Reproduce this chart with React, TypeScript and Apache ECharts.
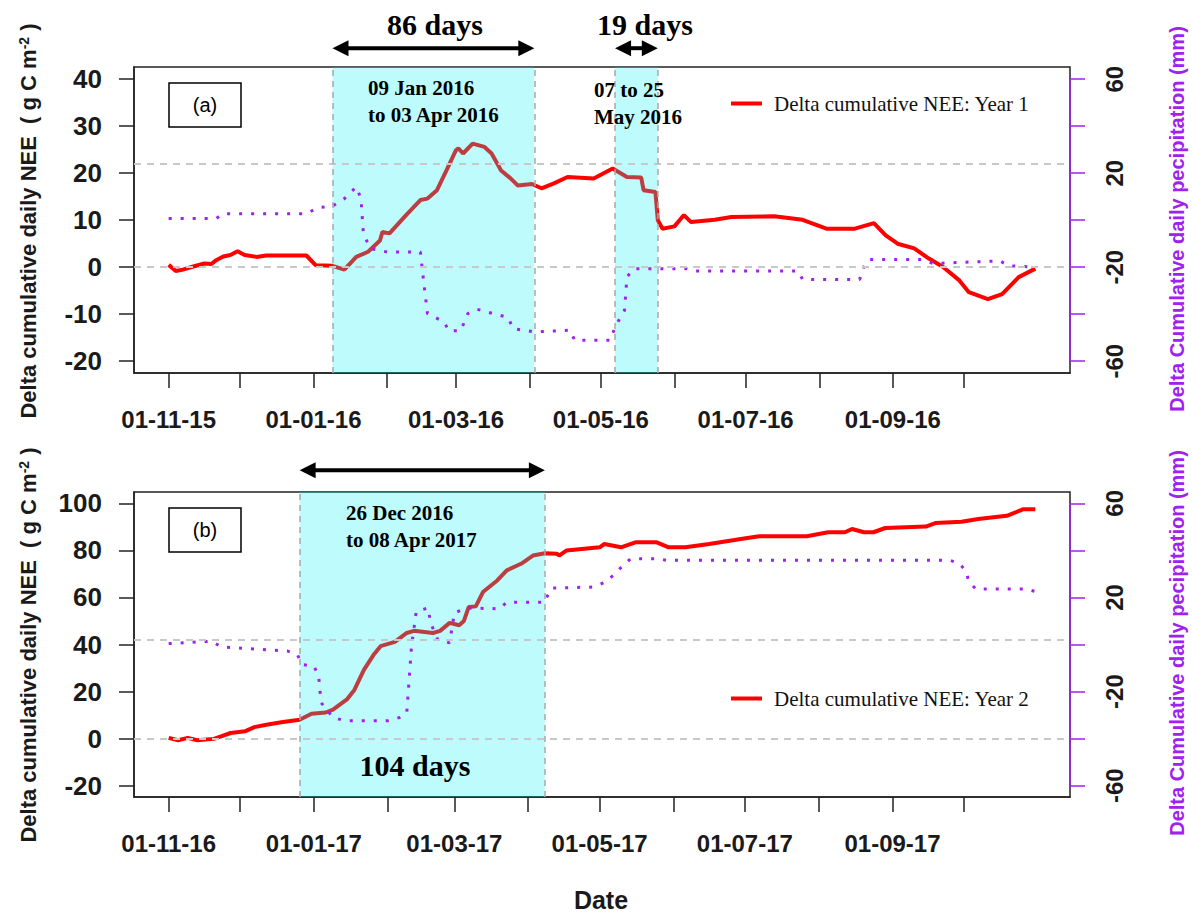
import React, { useEffect, useRef } from "react";
import * as echarts from "echarts";

// ---------- Panel (a): Year 1 ----------
const neeYear1Dates = [
  "2015-11-01", "2015-11-04", "2015-11-07", "2015-11-11", "2015-11-16", "2015-11-19", "2015-11-21",
  "2015-11-24", "2015-11-27", "2015-11-30", "2015-12-03", "2015-12-08", "2015-12-12", "2015-12-29",
  "2016-01-02", "2016-01-09", "2016-01-14", "2016-01-19", "2016-01-24", "2016-01-29", "2016-01-30",
  "2016-02-02", "2016-02-09", "2016-02-15", "2016-02-18", "2016-02-22", "2016-02-26", "2016-03-01",
  "2016-03-02", "2016-03-04", "2016-03-08", "2016-03-13", "2016-03-16", "2016-03-20", "2016-03-24",
  "2016-03-27", "2016-04-02", "2016-04-06", "2016-04-11", "2016-04-17", "2016-04-28", "2016-05-06",
  "2016-05-12", "2016-05-18", "2016-05-19", "2016-05-24", "2016-05-25", "2016-05-27", "2016-06-01",
  "2016-06-05", "2016-06-08", "2016-06-18", "2016-06-25", "2016-07-13", "2016-07-25", "2016-08-04",
  "2016-08-16", "2016-08-24", "2016-08-29", "2016-09-03", "2016-09-10", "2016-09-16", "2016-09-22",
  "2016-09-29", "2016-10-03", "2016-10-11", "2016-10-17", "2016-10-24", "2016-10-31",
];
const neeYear1Values = [
  0.5, -0.8, -0.5, 0.1, 0.8, 0.7, 1.5,
  2.3, 2.6, 3.4, 2.6, 2.2, 2.5, 2.5,
  0.4, 0.3, -0.5, 2.2, 3.3, 5.7, 7.5,
  7.2, 11.1, 14.3, 14.6, 16.4, 20.6, 24.9,
  25.3, 24.2, 26.3, 25.6, 24.2, 20.6, 18.9,
  17.4, 17.7, 16.8, 17.8, 19.2, 18.9, 21.0,
  19.2, 19.1, 16.4, 16.0, 10.0, 8.2, 8.7,
  11.1, 9.6, 10.1, 10.7, 10.85, 10.1, 8.2,
  8.2, 9.4, 6.8, 5.0, 4.0, 1.9, 0.1,
  -2.8, -5.3, -6.8, -5.7, -2.1, -0.3,
];
const precipYear1Dates = [
  "2015-11-01", "2015-11-21", "2015-11-24", "2015-12-29", "2016-01-03", "2016-01-09", "2016-01-14",
  "2016-01-19", "2016-01-21", "2016-01-22", "2016-01-25", "2016-02-01", "2016-02-15", "2016-02-16",
  "2016-02-18", "2016-02-25", "2016-02-27", "2016-03-03", "2016-03-06", "2016-03-10", "2016-03-14",
  "2016-03-23", "2016-03-25", "2016-04-03", "2016-04-18", "2016-04-20", "2016-05-05", "2016-05-07",
  "2016-05-11", "2016-05-12", "2016-05-15", "2016-06-06", "2016-06-10", "2016-07-23", "2016-07-25",
  "2016-08-18", "2016-08-20", "2016-08-22", "2016-09-13", "2016-09-18", "2016-10-16", "2016-10-20",
  "2016-10-31",
];
const precipYear1Values = [
  0.7, 0.7, 2.8, 2.8, 5.4, 6.0, 9.2,
  14.2, 9.2, -5.7, -12.1, -13.5, -13.5, -22.7,
  -39.7, -43.3, -47.1, -47.0, -39.7, -37.9, -39.0,
  -41.4, -46.1, -47.5, -46.8, -51.1, -51.1, -45.4,
  -38.3, -24.1, -20.6, -20.6, -21.6, -21.6, -25.2,
  -25.2, -19.1, -16.7, -16.7, -18.4, -17.3, -19.4,
  -19.9,
];
const xTicksYear1 = [
  "2015-11-01", "2015-12-01", "2016-01-01", "2016-02-01", "2016-03-01", "2016-04-01",
  "2016-05-01", "2016-06-01", "2016-07-01", "2016-08-01", "2016-09-01", "2016-10-01",
];
const xLabelsYear1 = ["2015-11-01", "2016-01-01", "2016-03-01", "2016-05-01", "2016-07-01", "2016-09-01"];
const bandsYear1 = [["2016-01-09", "2016-04-03"], ["2016-05-07", "2016-05-25"]];
const refLinesYear1 = [0, 22];
const leftTicksYear1 = [-20, -10, 0, 10, 20, 30, 40];
const leftRangeYear1 = [-22.5, 42.6];
const rightRangeYear1 = [-65, 65.2];
const arrowLevelYear1 = 46.6;

// ---------- Panel (b): Year 2 ----------
const neeYear2Dates = [
  "2016-11-01", "2016-11-05", "2016-11-09", "2016-11-13", "2016-11-20", "2016-11-23", "2016-11-27",
  "2016-12-03", "2016-12-07", "2016-12-12", "2016-12-19", "2016-12-26", "2016-12-31", "2017-01-06",
  "2017-01-09", "2017-01-15", "2017-01-18", "2017-01-22", "2017-01-26", "2017-01-29", "2017-02-04",
  "2017-02-09", "2017-02-12", "2017-02-20", "2017-02-23", "2017-02-27", "2017-03-03", "2017-03-05",
  "2017-03-07", "2017-03-10", "2017-03-13", "2017-03-19", "2017-03-23", "2017-03-29", "2017-04-03",
  "2017-04-08", "2017-04-13", "2017-04-14", "2017-04-17", "2017-05-01", "2017-05-03", "2017-05-10",
  "2017-05-16", "2017-05-25", "2017-05-30", "2017-06-06", "2017-06-16", "2017-06-30", "2017-07-07",
  "2017-07-27", "2017-08-05", "2017-08-12", "2017-08-15", "2017-08-20", "2017-08-24", "2017-08-29",
  "2017-09-15", "2017-09-19", "2017-09-30", "2017-10-07", "2017-10-19", "2017-10-26", "2017-10-31",
];
const neeYear2Values = [
  0.3, -0.7, 0.3, -0.7, -0.1, 1.0, 2.4,
  3.1, 4.9, 5.9, 7.1, 8.0, 10.6, 11.1,
  12.3, 16.8, 20.7, 29.2, 35.5, 39.3, 41.1,
  44.9, 45.8, 44.9, 45.8, 49.2, 48.2, 50.0,
  55.9, 56.2, 62.3, 67.2, 71.5, 74.3, 77.8,
  78.8, 78.6, 77.8, 79.9, 81.3, 82.7, 81.3,
  83.4, 83.4, 81.3, 81.3, 82.7, 84.9, 86.0,
  86.0, 87.7, 87.7, 89.1, 87.7, 87.7, 89.5,
  90.1, 91.6, 92.2, 93.3, 94.7, 97.5, 97.5,
];
const precipYear2Dates = [
  "2016-11-01", "2016-11-19", "2016-11-23", "2016-12-21", "2016-12-25", "2016-12-27", "2017-01-01",
  "2017-01-03", "2017-01-04", "2017-01-09", "2017-01-14", "2017-02-01", "2017-02-06", "2017-02-09",
  "2017-02-11", "2017-02-13", "2017-02-18", "2017-02-19", "2017-02-22", "2017-02-27", "2017-03-01",
  "2017-03-06", "2017-03-20", "2017-03-23", "2017-04-08", "2017-04-09", "2017-04-11", "2017-04-28",
  "2017-05-03", "2017-05-07", "2017-05-11", "2017-05-14", "2017-05-26", "2017-05-29", "2017-09-25",
  "2017-09-29", "2017-10-02", "2017-10-03", "2017-10-06", "2017-10-27", "2017-10-31",
];
const precipYear2Values = [
  0.4, 1.4, -1.0, -2.8, -4.2, -8.5, -9.2,
  -13.4, -24.7, -31.0, -32.4, -32.4, -31.0, -28.9,
  -0.7, 14.1, 15.5, 9.2, 2.1, 0.7, 13.4,
  15.5, 15.2, 17.9, 17.9, 20.5, 24.0, 24.4,
  26.3, 29.6, 33.8, 36.4, 36.4, 35.8, 35.8,
  34.5, 31.0, 26.8, 23.6, 23.6, 22.5,
];
const xTicksYear2 = [
  "2016-11-01", "2016-12-01", "2017-01-01", "2017-02-01", "2017-03-01", "2017-04-01",
  "2017-05-01", "2017-06-01", "2017-07-01", "2017-08-01", "2017-09-01", "2017-10-01",
];
const xLabelsYear2 = ["2016-11-01", "2017-01-01", "2017-03-01", "2017-05-01", "2017-07-01", "2017-09-01"];
const bandsYear2 = [["2016-12-26", "2017-04-08"]];
const refLinesYear2 = [0, 42];
const leftTicksYear2 = [-20, 0, 20, 40, 60, 80, 100];
const leftRangeYear2 = [-24.8, 104.8];
const rightRangeYear2 = [-64.8, 64.8];
const arrowLevelYear2 = 114;

const rightTicks = [-60, -40, -20, 0, 20, 40, 60];
const rightLabels = [-60, -20, 20, 60];

const RED = "#FF0000";
const PURPLE = "#A020F0";
const INK = "#1a1a1a";
const SANS = "'Liberation Sans', Arial, sans-serif";
const SERIF = "'Liberation Serif', 'Times New Roman', serif";

const ts = (s: string) => {
  const [y, m, d] = s.split("-").map(Number);
  return Date.UTC(y, m - 1, d);
};
const pairs = (dates: string[], vals: number[]) => dates.map((d, i) => [ts(d), vals[i]]);
const padRange = (dates: string[]) => {
  const a = ts(dates[0]);
  const b = ts(dates[dates.length - 1]);
  const p = (b - a) * 0.04;
  return [a - p, b + p];
};
const fmtDate = (v: number) => {
  const d = new Date(v);
  const dd = String(d.getUTCDate()).padStart(2, "0");
  const mm = String(d.getUTCMonth() + 1).padStart(2, "0");
  const yy = String(d.getUTCFullYear() % 100).padStart(2, "0");
  return `${dd}-${mm}-${yy}`;
};

function buildPanel(p: any) {
  const xr = padRange(p.neeDates);
  const xAxis = {
    type: "value",
    gridIndex: p.idx,
    min: xr[0],
    max: xr[1],
    axisLine: { show: true, onZero: false, lineStyle: { color: "#222", width: 1.5 } },
    axisTick: { show: true, customValues: p.xTicks.map(ts), length: 15, lineStyle: { color: "#222", width: 1.5 } },
    axisLabel: {
      show: true,
      customValues: p.xLabels.map(ts),
      formatter: (v: number) => fmtDate(v),
      fontSize: 24,
      fontWeight: "bold",
      fontFamily: SANS,
      color: INK,
      margin: 34,
    },
    splitLine: { show: false },
  };
  const yLeft = {
    type: "value",
    gridIndex: p.idx,
    position: "left",
    min: p.leftRange[0],
    max: p.leftRange[1],
    axisLine: { show: true, onZero: false, lineStyle: { color: "#222", width: 1.5 } },
    axisTick: { show: true, customValues: p.leftTicks, length: 15, lineStyle: { color: "#222", width: 1.5 } },
    axisLabel: {
      show: true,
      customValues: p.leftTicks,
      fontSize: 26,
      fontWeight: "bold",
      fontFamily: SANS,
      color: INK,
      margin: 32,
    },
    splitLine: { show: false },
  };
  const yRight = {
    type: "value",
    gridIndex: p.idx,
    position: "right",
    min: p.rightRange[0],
    max: p.rightRange[1],
    axisLine: { show: false, onZero: false },
    axisTick: { show: true, customValues: rightTicks, length: 15, lineStyle: { color: PURPLE, width: 1.5 } },
    axisLabel: {
      show: true,
      customValues: rightLabels,
      rotate: 90,
      fontSize: 24,
      fontWeight: "bold",
      fontFamily: SANS,
      color: INK,
      margin: 32,
    },
    splitLine: { show: false },
  };
  const xi = p.idx;
  const yl = p.idx * 2;
  const yr = p.idx * 2 + 1;
  const series = [
    {
      type: "line",
      name: p.neeName,
      xAxisIndex: xi,
      yAxisIndex: yl,
      data: pairs(p.neeDates, p.neeValues),
      symbol: "none",
      lineStyle: { color: RED, width: 4 },
      itemStyle: { color: RED },
      z: 2,
      silent: true,
      markLine: {
        silent: true,
        symbol: ["none", "none"],
        label: { show: false },
        lineStyle: { color: "#C8C8C8", type: [7, 6], width: 2 },
        data: p.refLines.map((v: number) => ({ yAxis: v })),
      },
    },
    {
      type: "line",
      name: "band" + xi,
      xAxisIndex: xi,
      yAxisIndex: yl,
      data: [],
      clip: false,
      z: 3,
      silent: true,
      markArea: {
        silent: true,
        z: 3,
        itemStyle: { color: "rgba(0,238,248,0.26)" },
        data: p.bands.map(([a, b]: string[]) => [{ xAxis: ts(a) }, { xAxis: ts(b) }]),
      },
      markLine: {
        silent: true,
        symbol: ["none", "none"],
        label: { show: false },
        lineStyle: { color: "#A8A8A8", type: [6, 5], width: 1.5 },
        data: p.bands.flatMap(([a, b]: string[]) => [{ xAxis: ts(a) }, { xAxis: ts(b) }]),
      },
    },
    {
      type: "line",
      name: p.precipName,
      xAxisIndex: xi,
      yAxisIndex: yr,
      data: pairs(p.precipDates, p.precipValues),
      symbol: "none",
      lineStyle: { color: PURPLE, width: 3, type: [3, 9] },
      itemStyle: { color: PURPLE },
      z: 4,
      clip: false,
      silent: true,
      markLine: {
        silent: true,
        symbol: ["none", "none"],
        label: { show: false },
        lineStyle: { color: PURPLE, type: "solid", width: 1.5 },
        data: [[{ coord: [xr[1], rightTicks[0]] }, { coord: [xr[1], rightTicks[rightTicks.length - 1]] }]],
      },
    },
  ];
  return { xAxis, yAxes: [yLeft, yRight], series };
}

const text = (x: number, y: number, t: string, o: any = {}) => ({
  type: "text",
  x,
  y,
  z: 100,
  rotation: o.rotation || 0,
  silent: true,
  style: {
    text: t,
    fill: o.fill || "#000",
    fontSize: o.fontSize || 20,
    fontWeight: o.fontWeight || "normal",
    fontFamily: o.fontFamily || SANS,
    align: o.align || "center",
    textAlign: o.align || "center",
    verticalAlign: "middle",
    textVerticalAlign: "middle",
    rich: o.rich,
  },
});

// double-headed arrow built from pixel positions obtained through the axes
const arrow = (x0: number, x1: number, y: number) => {
  const hl = 16;
  const hw = 8;
  return [
    { type: "line", z: 100, silent: true, shape: { x1: x0 + hl - 2, y1: y, x2: x1 - hl + 2, y2: y }, style: { stroke: "#000", lineWidth: 4 } },
    { type: "polygon", z: 100, silent: true, shape: { points: [[x0, y], [x0 + hl, y - hw], [x0 + hl, y + hw]] }, style: { fill: "#000" } },
    { type: "polygon", z: 100, silent: true, shape: { points: [[x1, y], [x1 - hl, y - hw], [x1 - hl, y + hw]] }, style: { fill: "#000" } },
  ];
};

export default function App() {
  const ref = useRef<HTMLDivElement>(null);
  useEffect(() => {
    document.body.style.margin = "0";
    if (!ref.current) return;
    const chart = echarts.init(ref.current, null, { renderer: "svg" });
    const panelA = {
      idx: 0,
      neeName: "Delta cumulative NEE: Year 1",
      precipName: "Delta cumulative daily precipitation: Year 1",
      neeDates: neeYear1Dates,
      neeValues: neeYear1Values,
      precipDates: precipYear1Dates,
      precipValues: precipYear1Values,
      xTicks: xTicksYear1,
      xLabels: xLabelsYear1,
      bands: bandsYear1,
      refLines: refLinesYear1,
      leftTicks: leftTicksYear1,
      leftRange: leftRangeYear1,
      rightRange: rightRangeYear1,
      arrowLevel: arrowLevelYear1,
    };
    const panelB = {
      idx: 1,
      neeName: "Delta cumulative NEE: Year 2",
      precipName: "Delta cumulative daily precipitation: Year 2",
      neeDates: neeYear2Dates,
      neeValues: neeYear2Values,
      precipDates: precipYear2Dates,
      precipValues: precipYear2Values,
      xTicks: xTicksYear2,
      xLabels: xLabelsYear2,
      bands: bandsYear2,
      refLines: refLinesYear2,
      leftTicks: leftTicksYear2,
      leftRange: leftRangeYear2,
      rightRange: rightRangeYear2,
      arrowLevel: arrowLevelYear2,
    };
    const a = buildPanel(panelA);
    const b = buildPanel(panelB);
    const leftTitleRich = {
      m: { fontSize: 22, fontWeight: "bold", fontFamily: SANS, fill: INK, color: INK },
      s: { fontSize: 14, fontWeight: "bold", fontFamily: SANS, fill: INK, color: INK, verticalAlign: "top" },
    };
    const leftTitle = "{m|Delta cumulative daily NEE  ( g C m}{s|-2}{m| )}";
    const rightTitle = "Delta Cumulative daily pecipitation (mm)";
    const legendBase = {
      left: 731,
      icon: "rect",
      itemWidth: 31,
      itemHeight: 4,
      padding: 0,
      selectedMode: false,
      textStyle: { fontFamily: SERIF, fontSize: 21, color: "#111", padding: [0, 0, 0, 7] },
    };
    chart.setOption({
      animation: false,
      backgroundColor: "#fff",
      textStyle: { fontFamily: SANS },
      grid: [
        { left: 134, top: 67, width: 936, height: 306, show: true, borderColor: "#222", borderWidth: 1.5, backgroundColor: "transparent", outerBoundsMode: "none" },
        { left: 134, top: 492, width: 936, height: 305, show: true, borderColor: "#222", borderWidth: 1.5, backgroundColor: "transparent", outerBoundsMode: "none" },
      ],
      xAxis: [a.xAxis, b.xAxis],
      yAxis: [...a.yAxes, ...b.yAxes],
      legend: [
        { ...legendBase, top: 93, data: ["Delta cumulative NEE: Year 1"] },
        { ...legendBase, top: 688, data: ["Delta cumulative NEE: Year 2"] },
      ],
      series: [...a.series, ...b.series],
    });

    const arrows: any[] = [];
    [panelA, panelB].forEach((p) => {
      const y = chart.convertToPixel({ yAxisIndex: p.idx * 2 }, p.arrowLevel) as number;
      p.bands.forEach(([s, e]) => {
        const x0 = chart.convertToPixel({ xAxisIndex: p.idx }, ts(s)) as number;
        const x1 = chart.convertToPixel({ xAxisIndex: p.idx }, ts(e)) as number;
        arrows.push(...arrow(x0, x1, y));
      });
    });

    chart.setOption({
      graphic: [
        { type: "rect", z: 100, shape: { x: 169, y: 83, width: 72, height: 44 }, style: { fill: "#fff", stroke: "#000", lineWidth: 1.5 }, silent: true },
        text(205, 105, "(a)", { fontSize: 20 }),
        { type: "rect", z: 100, shape: { x: 169, y: 508, width: 72, height: 44 }, style: { fill: "#fff", stroke: "#000", lineWidth: 1.5 }, silent: true },
        text(205, 530, "(b)", { fontSize: 20 }),
        ...arrows,
        text(435, 24, "86 days", { fontSize: 30, fontWeight: "bold", fontFamily: SERIF }),
        text(645, 24, "19 days", { fontSize: 30, fontWeight: "bold", fontFamily: SERIF }),
        text(368, 88, "09 Jan 2016", { fontSize: 21, fontWeight: "bold", fontFamily: SERIF, align: "left" }),
        text(368, 115, "to 03 Apr 2016", { fontSize: 21, fontWeight: "bold", fontFamily: SERIF, align: "left" }),
        text(594, 90, "07 to 25", { fontSize: 21, fontWeight: "bold", fontFamily: SERIF, align: "left" }),
        text(594, 117, "May 2016", { fontSize: 21, fontWeight: "bold", fontFamily: SERIF, align: "left" }),
        text(346, 513, "26 Dec 2016", { fontSize: 21, fontWeight: "bold", fontFamily: SERIF, align: "left" }),
        text(346, 540, "to 08 Apr 2017", { fontSize: 21, fontWeight: "bold", fontFamily: SERIF, align: "left" }),
        text(415, 765, "104 days", { fontSize: 30, fontWeight: "bold", fontFamily: SERIF }),
        text(28, 221, leftTitle, { rotation: Math.PI / 2, rich: leftTitleRich, fontSize: 22, fontWeight: "bold", fill: INK }),
        text(28, 645, leftTitle, { rotation: Math.PI / 2, rich: leftTitleRich, fontSize: 22, fontWeight: "bold", fill: INK }),
        text(1177, 219, rightTitle, { rotation: Math.PI / 2, fontSize: 20, fontWeight: "bold", fill: PURPLE }),
        text(1177, 643, rightTitle, { rotation: Math.PI / 2, fontSize: 20, fontWeight: "bold", fill: PURPLE }),
        text(601, 900, "Date", { fontSize: 25, fontWeight: "bold", fill: INK }),
      ],
    });
    return () => chart.dispose();
  }, []);
  return <div ref={ref} style={{ width: 1192, height: 913, position: "absolute", left: 0, top: 0 }} />;
}
